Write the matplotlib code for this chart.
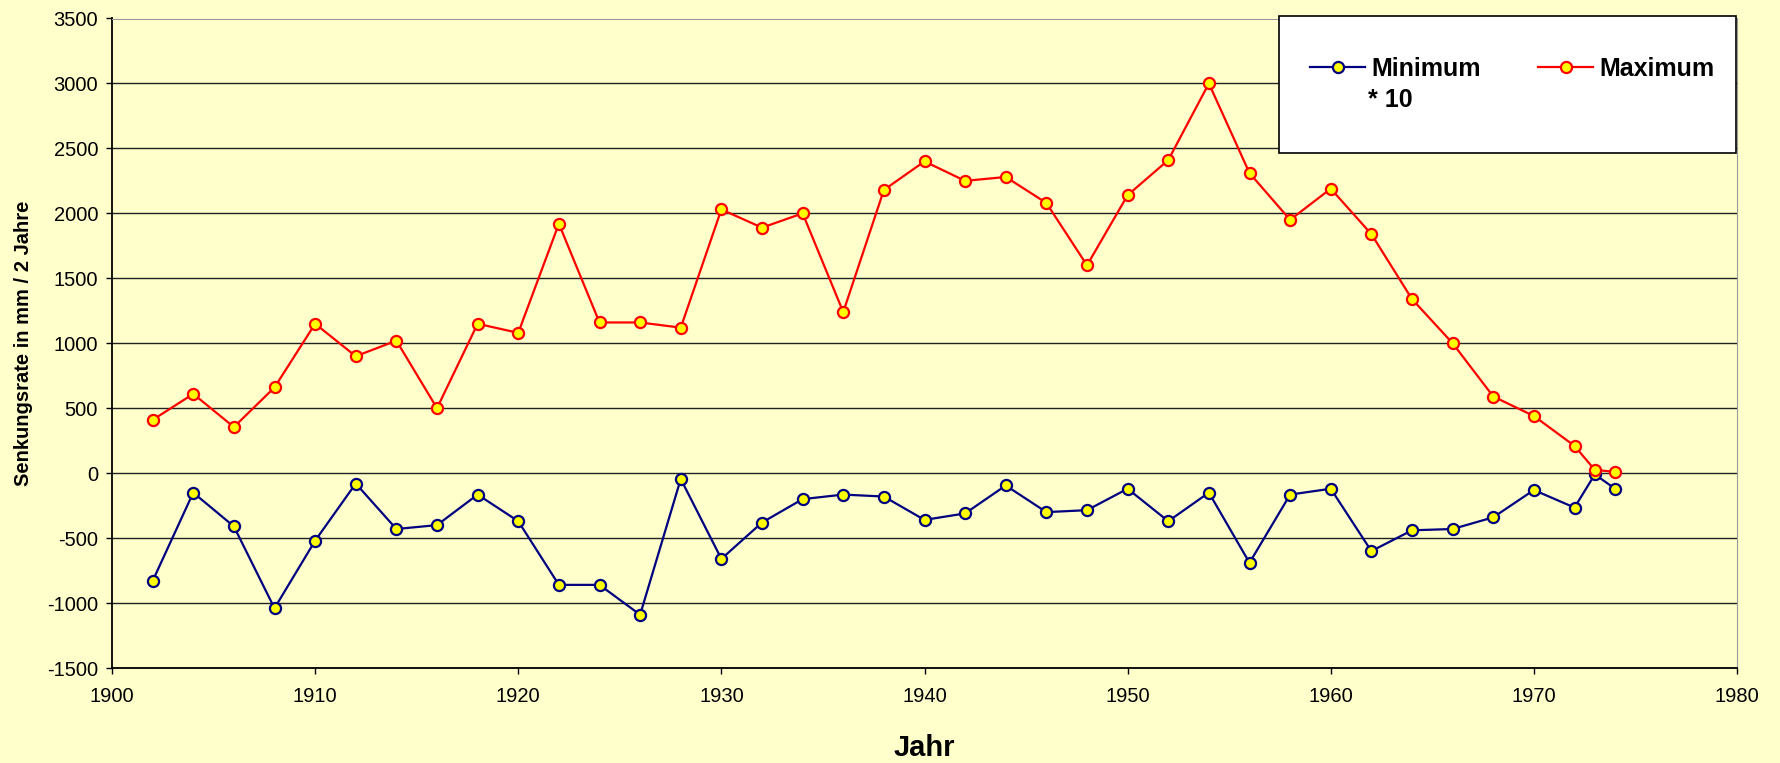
import numpy as np
import matplotlib
matplotlib.use("Agg")
import matplotlib.pyplot as plt
from matplotlib.patches import Rectangle

# Jahr / Senkungsrate in mm pro 2 Jahre (Minimum * 10)
years = [1902, 1904, 1906, 1908, 1910, 1912, 1914, 1916, 1918, 1920,
         1922, 1924, 1926, 1928, 1930, 1932, 1934, 1936, 1938, 1940,
         1942, 1944, 1946, 1948, 1950, 1952, 1954, 1956, 1958, 1960,
         1962, 1964, 1966, 1968, 1970, 1972, 1973, 1974]

minimum = [-830, -150, -410, -1040, -520, -80, -430, -400, -165, -370,
           -860, -860, -1090, -45, -660, -380, -200, -165, -180, -360,
           -310, -95, -300, -285, -120, -370, -150, -690, -165, -120,
           -600, -440, -430, -340, -130, -265, -10, -120]

maximum = [410, 610, 355, 660, 1150, 900, 1020, 500, 1150, 1080,
           1920, 1160, 1160, 1120, 2030, 1890, 2000, 1240, 2180, 2400,
           2250, 2280, 2080, 1600, 2140, 2410, 3000, 2310, 1950, 2190,
           1840, 1340, 1000, 590, 440, 210, 25, 10]

xticks = list(range(1900, 1981, 10))
yticks = list(range(-1500, 3501, 500))

bg = "#FFFFCC"
plt.rcParams["font.family"] = ["Liberation Sans", "DejaVu Sans"]
plt.rcParams["axes.unicode_minus"] = False

W, H = 1780, 763
fig = plt.figure(figsize=(W/100, H/100), dpi=100, facecolor=bg)
ax = fig.add_axes([112/W, 1-668/H, (1737-112)/W, (668-18.5)/H])
ax.set_facecolor(bg)

ax.plot(years, minimum, color="#000080", lw=1.6, marker="o", ms=8,
        mfc="#FFFF00", mec="#000080", mew=1.6, label="Minimum", zorder=3)
ax.plot(years, maximum, color="#FF0000", lw=1.6, marker="o", ms=8,
        mfc="#FFFF00", mec="#FF0000", mew=1.6, label="Maximum", zorder=3)

ax.set_xlim(1900, 1980)
ax.set_ylim(-1500, 3500)
ax.set_xticks(xticks)
ax.set_yticks(yticks)
ax.yaxis.grid(True, color="#222222", lw=1.0)
ax.set_axisbelow(True)
ax.tick_params(axis="both", direction="out", length=4, width=1, labelsize=14.5)
ax.tick_params(axis="y", pad=6)
ax.tick_params(axis="x", pad=10)

for s in ["top", "right"]:
    ax.spines[s].set_color("#999999")
for s in ["left", "bottom"]:
    ax.spines[s].set_color("black")
    ax.spines[s].set_linewidth(1.3)

ax.set_ylabel("Senkungsrate in mm / 2 Jahre", fontsize=14.5, fontweight="bold", labelpad=10)
ax.set_xlabel("Jahr", fontsize=21, fontweight="bold", labelpad=20)

# legend box (white, black frame) drawn separately
box = Rectangle((1279/W, 1-153/H), 457/W, 137/H, transform=fig.transFigure,
                facecolor="white", edgecolor="black", lw=1.2, clip_on=False, zorder=4)
ax.add_patch(box)

leg = ax.legend(ncol=2, loc="upper left", bbox_to_anchor=(1310/W, 1-57/H),
                bbox_transform=fig.transFigure, frameon=False,
                prop={"weight": "bold", "size": 18},
                borderpad=0, handlelength=2.2, handletextpad=0.25,
                columnspacing=2.3, borderaxespad=0)
leg.set_zorder(5)
ax.text(1368/W, 1-107/H, "* 10", transform=fig.transFigure, fontsize=18,
        fontweight="bold", va="baseline", ha="left", zorder=6)

fig.savefig("out.png", dpi=100, facecolor=bg)
